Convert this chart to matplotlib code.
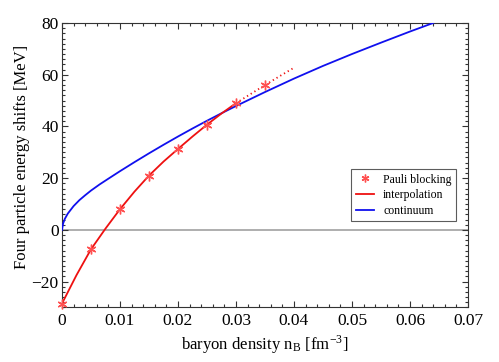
import matplotlib.pyplot as plt
from matplotlib.ticker import MultipleLocator

# Pauli blocking points
nb_pts = [0.0, 0.005, 0.01, 0.015, 0.02, 0.025, 0.03, 0.035]
e_pts = [-28.5, -7.5, 8.0, 21.0, 31.3, 40.7, 49.0, 56.0]

# interpolation (solid part)
nb_interp = [0.0, 0.0025, 0.005, 0.0075, 0.01, 0.0125, 0.015, 0.0175,
             0.02, 0.0225, 0.025, 0.0275, 0.03]
e_interp = [-28.5, -17.5, -7.5, 0.5, 8.0, 14.8, 21.0, 26.4,
            31.3, 36.1, 40.7, 45.0, 49.0]

# interpolation (dotted extrapolation)
nb_extra = [0.03, 0.0325, 0.035, 0.0375, 0.04]
e_extra = [49.0, 52.5, 56.0, 59.4, 62.7]

# continuum
nb_cont = [0.0, 0.0002, 0.0005, 0.001, 0.002, 0.003, 0.004, 0.005, 0.0065,
           0.008, 0.01, 0.0125, 0.015, 0.0175, 0.02, 0.0225, 0.025, 0.0275,
           0.03, 0.035, 0.04, 0.045, 0.05, 0.055, 0.06, 0.064]
e_cont = [0.0, 2.5, 4.3, 6.3, 9.2, 11.5, 13.4, 15.2, 17.6,
          19.8, 22.7, 26.2, 29.6, 32.9, 36.1, 39.2, 42.2, 45.1,
          47.9, 53.3, 58.5, 63.4, 68.0, 72.4, 76.7, 80.0]

plt.rcParams['font.family'] = ['Liberation Serif', 'DejaVu Serif']
plt.rcParams['mathtext.fontset'] = 'stix'

fig = plt.figure(figsize=(4.99, 3.62), dpi=100)
ax = fig.add_axes([0.1242, 0.1506, 0.8137, 0.7859])

ax.axhline(0, color='#999999', lw=1.1, zorder=1)
ax.plot(nb_cont, e_cont, color='#1010ee', lw=1.3, label='continuum', zorder=3)
ax.plot(nb_interp, e_interp, color='#ee1010', lw=1.3, label='interpolation', zorder=4)
ax.plot(nb_extra, e_extra, color='#ee1010', lw=1.3, linestyle=(0, (0.7, 1.7)), zorder=4)
ax.plot(nb_pts, e_pts, linestyle='none', marker=(6, 2, 0), markersize=7,
        markeredgewidth=1.0, color='#ff5050', label='Pauli blocking',
        zorder=5, clip_on=False)

ax.set_xlim(0, 0.07)
ax.set_ylim(-30, 80)
ax.xaxis.set_minor_locator(MultipleLocator(0.002))
ax.yaxis.set_major_locator(MultipleLocator(20))
ax.yaxis.set_minor_locator(MultipleLocator(2))
ax.set_xticks([0, 0.01, 0.02, 0.03, 0.04, 0.05, 0.06, 0.07])
ax.set_xticklabels(['0', '0.01', '0.02', '0.03', '0.04', '0.05', '0.06', '0.07'])
ax.tick_params(which='both', direction='in', top=True, right=True,
               labelsize=12.5, colors='#333333', labelcolor='black')
ax.tick_params(which='major', length=4.5, width=0.8)
ax.tick_params(axis='y', which='major', pad=2.5)
ax.tick_params(axis='x', which='major', pad=4)
ax.tick_params(which='minor', length=2.5, width=0.8)
for s in ax.spines.values():
    s.set_linewidth(0.8)
    s.set_color('#333333')

ax.set_xlabel(r'baryon density n$_\mathregular{B}$ [fm$^\mathregular{-3}$]', fontsize=12, labelpad=3)
ax.set_ylabel('Four particle energy shifts [MeV]', fontsize=12)
ax.yaxis.set_label_coords(-0.078, 0.53)

handles, labels = ax.get_legend_handles_labels()
order = [2, 1, 0]
leg = ax.legend([handles[i] for i in order], [labels[i] for i in order],
                loc='upper left', bbox_to_anchor=(0.698, 0.508), fontsize=8.5,
                frameon=True, fancybox=False, edgecolor='#333333',
                handlelength=1.5, borderpad=0.4, labelspacing=0.3,
                markerscale=0.8)
leg.get_frame().set_linewidth(0.8)

fig.savefig('out.png', dpi=100)
